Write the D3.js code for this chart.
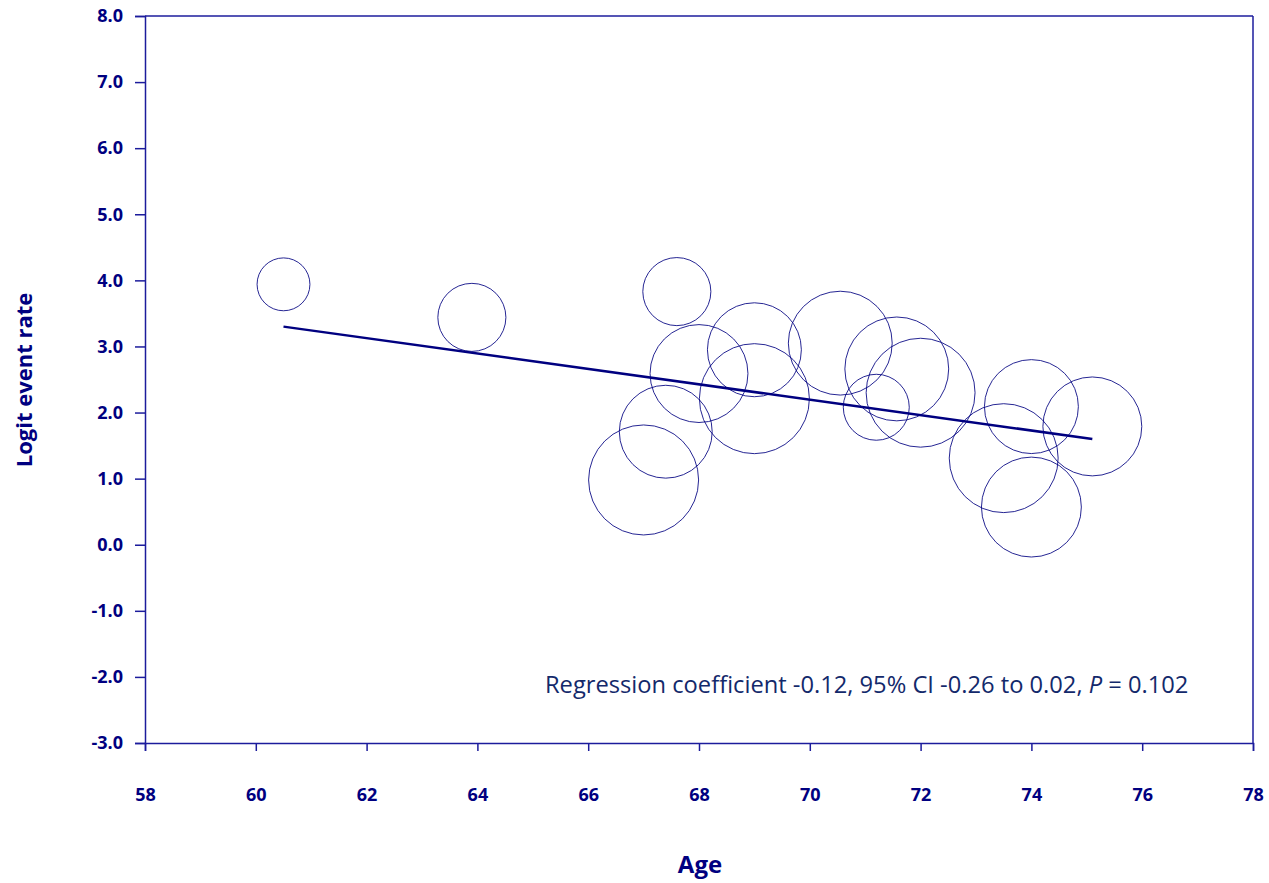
<!DOCTYPE html>
<html>
<head>
<meta charset="utf-8">
<script src="https://cdn.jsdelivr.net/npm/d3@7"></script>
<style>
  body { margin: 0; background: #fff; }
  svg { display: block; font-family: "Open Sans", sans-serif; }
</style>
</head>
<body>
<svg id="chart"></svg>
<script>
// study-level data
const ages = [60.5, 63.9, 67.0, 67.4, 67.6, 68.0, 69.0, 69.0, 70.55, 71.2, 71.57, 72.0, 73.5, 74.0, 74.0, 75.1];
const logitRates = [3.94, 3.44, 0.98, 1.71, 3.83, 2.59, 2.95, 2.21, 3.05, 2.08, 2.66, 2.30, 1.31, 2.09, 0.57, 1.79];
const weights = [70, 116, 303, 216, 116, 240, 221, 303, 270, 109, 270, 297, 297, 221, 250, 245];

// meta-regression fit line endpoints
const fitAges = [60.5, 75.1];
const fitRates = [3.30, 1.60];

const xTicks = [58, 60, 62, 64, 66, 68, 70, 72, 74, 76, 78];
const yTicks = [-3, -2, -1, 0, 1, 2, 3, 4, 5, 6, 7, 8];

const width = 1269, height = 883;
const margin = { top: 16, right: 16, bottom: 140, left: 145 };
const navy = "#000080", axisCol = "#1c1c9c";
const font = "'Open Sans', sans-serif";

const svg = d3.select("#chart").attr("width", width).attr("height", height);

const x = d3.scaleLinear().domain([58, 78]).range([margin.left, width - margin.right]);
const y = d3.scaleLinear().domain([-3, 8]).range([height - margin.bottom, margin.top]);
const r = d3.scaleSqrt().domain([0, d3.max(weights)]).range([0, 55]);

// frame: top and right lines
svg.append("line").attr("x1", x(58)).attr("x2", x(78)).attr("y1", y(8)).attr("y2", y(8))
   .attr("stroke", axisCol).attr("stroke-width", 1.5);
svg.append("line").attr("x1", x(78)).attr("x2", x(78)).attr("y1", y(8)).attr("y2", y(-3))
   .attr("stroke", axisCol).attr("stroke-width", 1.5);

// x axis
const gx = svg.append("g").attr("transform", `translate(0,${y(-3)})`)
   .call(d3.axisBottom(x).tickValues(xTicks).tickFormat(d3.format("d")).tickSizeOuter(0).tickSize(8).tickPadding(37))
   .attr("font-family", font);
gx.select(".domain").attr("stroke", axisCol).attr("stroke-width", 1.5);
gx.selectAll(".tick line").attr("stroke", axisCol).attr("stroke-width", 1.5);
gx.selectAll("text").attr("fill", navy).attr("font-size", "18px").attr("font-weight", "bold");

// y axis
const gy = svg.append("g").attr("transform", `translate(${x(58)},0)`)
   .call(d3.axisLeft(y).tickValues(yTicks).tickFormat(d3.format(".1f")).tickSizeOuter(0).tickSize(10).tickPadding(12))
   .attr("font-family", font);
gy.select(".domain").attr("stroke", axisCol).attr("stroke-width", 1.5);
gy.selectAll(".tick line").attr("stroke", axisCol).attr("stroke-width", 1.5);
gy.selectAll("text").attr("fill", navy).attr("font-size", "18px").attr("font-weight", "bold")
   .text(d => d3.format(".1f")(d).replace("\u2212", "-"));

// bubbles
const studies = ages.map((a, i) => ({ age: a, rate: logitRates[i], w: weights[i] }));
svg.append("g").selectAll("circle").data(studies).enter().append("circle")
   .attr("cx", d => x(d.age)).attr("cy", d => y(d.rate)).attr("r", d => r(d.w))
   .attr("fill", "none").attr("stroke", navy).attr("stroke-width", 1).attr("stroke-opacity", 0.85);

// regression line
svg.append("line")
   .attr("x1", x(fitAges[0])).attr("y1", y(fitRates[0]))
   .attr("x2", x(fitAges[1])).attr("y2", y(fitRates[1]))
   .attr("stroke", navy).attr("stroke-width", 2.5);

// annotation
const note = svg.append("text").attr("x", 545).attr("y", 693).attr("fill", "#13296b").attr("font-size", "23.7px");
note.append("tspan").text("Regression coefficient -0.12, 95% CI -0.26 to 0.02, ");
note.append("tspan").attr("font-style", "italic").text("P");
note.append("tspan").text(" = 0.102");

// axis labels
svg.append("text").attr("text-anchor", "middle").attr("x", 700).attr("y", 873)
   .attr("fill", navy).attr("font-size", "24px").attr("font-weight", "bold").text("Age");

svg.append("text").attr("text-anchor", "middle").attr("transform", "rotate(-90)")
   .attr("x", -380).attr("y", 32)
   .attr("fill", navy).attr("font-size", "22px").attr("font-weight", "bold").text("Logit event rate");
</script>
</body>
</html>
